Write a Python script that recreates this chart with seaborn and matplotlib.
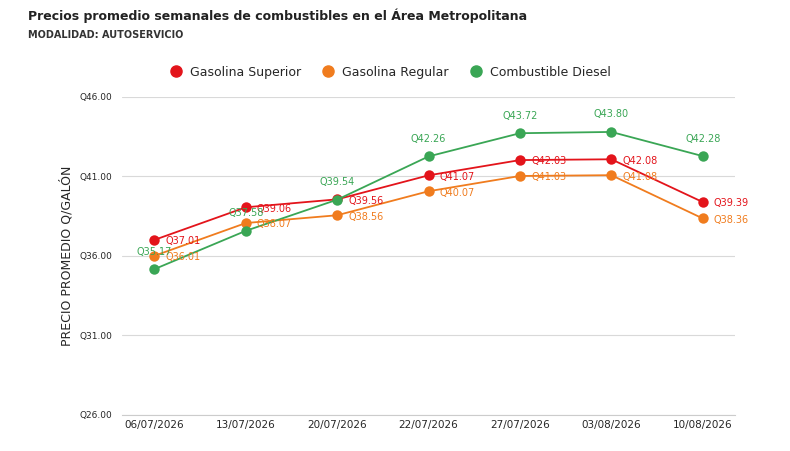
import matplotlib
matplotlib.use("Agg")
import matplotlib.pyplot as plt
import seaborn as sns
import pandas as pd

fechas = ["06/07/2026", "13/07/2026", "20/07/2026", "22/07/2026", "27/07/2026", "03/08/2026", "10/08/2026"]
superior = [37.01, 39.06, 39.56, 41.07, 42.03, 42.08, 39.39]
regular = [36.01, 38.07, 38.56, 40.07, 41.03, 41.08, 38.36]
diesel = [35.17, 37.58, 39.54, 42.26, 43.72, 43.80, 42.28]

series = {"Gasolina Superior": superior, "Gasolina Regular": regular, "Combustible Diesel": diesel}
colores = {"Gasolina Superior": "#e3141b", "Gasolina Regular": "#f07c1e", "Combustible Diesel": "#3aa655"}

rows = []
for name, vals in series.items():
    for i, v in enumerate(vals):
        rows.append({"x": i, "fecha": fechas[i], "precio": v, "serie": name})
df = pd.DataFrame(rows)

sns.set_style("white")
fig = plt.figure(figsize=(7.9, 4.51), dpi=100)
ax = fig.add_axes([0.155, 0.08, 0.775, 0.705])

sns.lineplot(data=df, x="x", y="precio", hue="serie", palette=colores, marker="o",
             markersize=7.5, markeredgewidth=0, linewidth=1.3, ax=ax, legend=False)

for name, vals in series.items():
    for i, v in enumerate(vals):
        if name == "Combustible Diesel":
            ax.annotate(f"Q{v:.2f}", (i, v), xytext=(0, 9), textcoords="offset points",
                        ha="center", va="bottom", fontsize=7, color=colores[name])
        else:
            ax.annotate(f"Q{v:.2f}", (i, v), xytext=(8, -1), textcoords="offset points",
                        ha="left", va="center", fontsize=7, color=colores[name])

ax.set_xlim(-0.35, 6.35)
ax.set_ylim(26, 46)
ax.set_yticks([26, 31, 36, 41, 46])
ax.set_yticks([28.5, 33.5, 38.5, 43.5], minor=True)
ax.set_yticklabels([f"Q{t:.2f}" for t in [26, 31, 36, 41, 46]], fontsize=6.5)
ax.set_xticks(range(len(fechas)))
ax.set_xticklabels(fechas, fontsize=7.5)
ax.grid(axis="y", color="#d9d9d9", linewidth=0.8)
ax.tick_params(axis="y", which="both", length=4, color="#333333", direction="out")
ax.tick_params(axis="x", length=0)
for s in ["top", "right", "left"]:
    ax.spines[s].set_visible(False)
ax.spines["bottom"].set_color("#cccccc")
ax.set_xlabel("")
ax.set_ylabel("PRECIO PROMEDIO Q/GALÓN", fontsize=9)

handles = [plt.Line2D([], [], marker="o", linestyle="", color=c, markersize=8) for c in colores.values()]
fig.legend(handles, list(colores.keys()), loc="center", bbox_to_anchor=(0.49, 0.84), ncol=3,
           frameon=False, fontsize=9, handletextpad=0.1, columnspacing=1.2)

fig.text(0.035, 0.955, "Precios promedio semanales de combustibles en el Área Metropolitana",
         fontsize=9, fontweight="bold", color="#222222")
fig.text(0.035, 0.915, "MODALIDAD: AUTOSERVICIO", fontsize=7, fontweight="bold", color="#333333")

fig.savefig("out.png", dpi=100)
